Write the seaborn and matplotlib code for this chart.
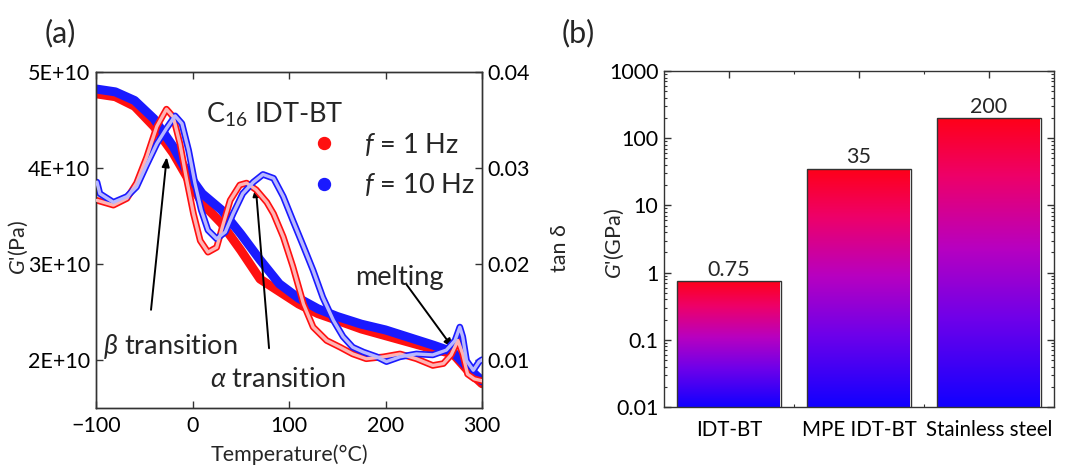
import numpy as np
import matplotlib
matplotlib.use("Agg")
import matplotlib.pyplot as plt
import matplotlib.ticker as mticker
from matplotlib.colors import LinearSegmentedColormap
from matplotlib.lines import Line2D
from matplotlib.transforms import blended_transform_factory
import seaborn as sns

# ---- DMA data: storage modulus G' (Pa) -------------------------------------
temp_g = [-100, -80, -60, -40, -20, -5, 10, 30, 50, 70, 90, 110, 130, 150,
          175, 200, 225, 250, 270, 285, 300]
g_1hz = [4.77e10, 4.74e10, 4.64e10, 4.43e10, 4.15e10, 3.89e10, 3.63e10,
         3.42e10, 3.14e10, 2.84e10, 2.71e10, 2.58e10, 2.48e10, 2.41e10,
         2.32e10, 2.25e10, 2.18e10, 2.11e10, 2.06e10, 1.89e10, 1.75e10]
g_10hz = [4.82e10, 4.79e10, 4.70e10, 4.51e10, 4.22e10, 3.94e10, 3.73e10,
          3.56e10, 3.31e10, 3.04e10, 2.79e10, 2.64e10, 2.53e10, 2.45e10,
          2.37e10, 2.31e10, 2.23e10, 2.15e10, 2.08e10, 1.92e10, 1.78e10]

# ---- DMA data: loss tangent tan delta --------------------------------------
temp_tan_1hz = [-99, -82, -68, -58, -47.5, -37, -27, -20, -13, -6, 1, 8, 16,
                25, 32, 39, 49, 56, 66, 77, 84, 94, 104, 115, 125, 139, 153,
                166, 180, 198, 215, 232, 249, 260, 268, 275, 280, 285, 292, 300]
tan_1hz = [0.0266, 0.0261, 0.0268, 0.0284, 0.0311, 0.0343, 0.0361, 0.0353,
           0.0325, 0.0287, 0.0252, 0.0224, 0.0212, 0.0217, 0.0242, 0.0266,
           0.0282, 0.0284, 0.0277, 0.0264, 0.0252, 0.0228, 0.0197, 0.0158,
           0.0134, 0.0120, 0.0113, 0.0106, 0.0101, 0.0103, 0.0106, 0.0101,
           0.0094, 0.0096, 0.0105, 0.0120, 0.0106, 0.0085, 0.0080, 0.0078]
temp_tan_10hz = [-99, -96, -82, -68, -58, -47.5, -37, -27, -18, -11, -4, 2.5,
                 9, 16, 25, 34, 42, 52, 63, 73, 84, 94, 104, 115, 125, 135,
                 146, 156, 166, 177, 191, 201, 215, 232, 249, 263, 272, 277,
                 280, 284, 291, 297, 300]
tan_10hz = [0.0285, 0.0273, 0.0264, 0.0270, 0.0280, 0.0303, 0.0325, 0.0341,
            0.0354, 0.0346, 0.0318, 0.0284, 0.0256, 0.0235, 0.0226, 0.0233,
            0.0252, 0.0273, 0.0285, 0.0293, 0.0289, 0.0270, 0.0245, 0.0218,
            0.0193, 0.0165, 0.0141, 0.0124, 0.0113, 0.0108, 0.0103, 0.0098,
            0.0103, 0.0106, 0.0105, 0.0110, 0.0120, 0.0134, 0.0124, 0.0099,
            0.0089, 0.0098, 0.0100]

# ---- modulus comparison (GPa) ----------------------------------------------
materials = ["IDT-BT", "MPE IDT-BT", "Stainless steel"]
modulus_gpa = [0.75, 35, 200]

RED = "#ff1010"
BLUE = "#1a1aff"

sns.set_style("ticks")
plt.rcParams.update({
    "font.family": ["Lato", "DejaVu Sans"],
    "mathtext.fontset": "custom",
    "mathtext.rm": "Lato",
    "mathtext.it": "Lato:italic",
    "mathtext.fallback": "cm",
    "axes.edgecolor": "#333333",
    "axes.linewidth": 1.0,
    "xtick.color": "#333333",
    "ytick.color": "#333333",
    "xtick.labelcolor": "black",
    "ytick.labelcolor": "black",
})

FS = 15.5
fig = plt.figure(figsize=(10.74, 4.66), dpi=100)
ax1 = fig.add_axes([0.0894, 0.1251, 0.3594, 0.7210])
ax1b = ax1.twinx()
ax2 = fig.add_axes([0.6182, 0.1266, 0.3631, 0.7210])

# ---------------- panel (a) ----------------
for temps, vals, col in [(temp_g, g_1hz, RED), (temp_g, g_10hz, BLUE)]:
    sns.lineplot(x=temps, y=vals, ax=ax1, color=col, lw=6.5, sort=False,
                 estimator=None, solid_capstyle="round",
                 solid_joinstyle="round", zorder=2)

# tan delta drawn as a hollow chain of open circles (coloured tube, pale core)
for temps, vals, col, core in [(temp_tan_1hz, tan_1hz, RED, "#ffb4b4"),
                               (temp_tan_10hz, tan_10hz, BLUE, "#b8b8ff")]:
    sns.lineplot(x=temps, y=vals, ax=ax1b, color=col, lw=4.8, sort=False,
                 estimator=None, solid_joinstyle="round",
                 solid_capstyle="round", zorder=2)
    sns.lineplot(x=temps, y=vals, ax=ax1b, color=core, lw=2.4, sort=False,
                 estimator=None, solid_joinstyle="round",
                 solid_capstyle="round", zorder=3)

ax1.set_xlim(-100, 300)
ax1.set_ylim(1.5e10, 5e10)
ax1b.set_ylim(0.005, 0.04)
ax1.set_xticks([-100, 0, 100, 200, 300])
ax1.set_yticks([2e10, 3e10, 4e10, 5e10])
ax1.yaxis.set_major_formatter(
    mticker.FuncFormatter(lambda v, p: f"{v / 1e10:.0f}E+10"))
ax1b.set_yticks([0.01, 0.02, 0.03, 0.04])
ax1b.yaxis.set_major_formatter(mticker.FuncFormatter(lambda v, p: f"{v:.2f}"))
ax1.tick_params(axis="both", direction="in", length=5, width=1,
                labelsize=FS, pad=4, top=True, right=False)
ax1.tick_params(axis="x", pad=6)
ax1b.tick_params(axis="y", direction="in", length=5, width=1,
                 labelsize=FS, pad=4)
ax1.set_xlabel("Temperature(°C)", fontsize=FS)
ax1.xaxis.set_label_coords(0.5, -0.108)
ax1.set_ylabel("")
ax1b.set_ylabel("")
fig.text(0.0168, 0.470, "$G$'(Pa)", fontsize=FS, rotation=90,
         ha="center", va="center")
fig.text(0.5214, 0.468, "tan δ", fontsize=FS, rotation=90,
         ha="center", va="center")

BIG = 19.5
ax1b.text(0.286, 0.871, "C$_{16}$ IDT-BT", transform=ax1b.transAxes,
          fontsize=BIG, ha="left", va="center")
handles = [Line2D([], [], ls="none", marker="o", ms=8.6, color=RED),
           Line2D([], [], ls="none", marker="o", ms=8.6, color=BLUE)]
ax1b.legend(handles, ["$f$ = 1 Hz", "$f$ = 10 Hz"], loc="upper left",
            bbox_to_anchor=(0.52, 0.825), frameon=False, fontsize=BIG,
            handlelength=2.0, handletextpad=0.5, labelspacing=0.5,
            borderpad=0, borderaxespad=0)

arrow = dict(arrowstyle="-|>,head_length=0.55,head_width=0.22", lw=1.4,
             color="black", shrinkA=0, shrinkB=0)
ax1.annotate("", xy=(-26.7, 4.11e10), xytext=(-43, 2.52e10), arrowprops=arrow)
ax1.annotate("", xy=(65.5, 3.80e10), xytext=(79.3, 2.12e10), arrowprops=arrow)
ax1.annotate("", xy=(270, 2.12e10), xytext=(222, 2.78e10), arrowprops=arrow)
ax1.text(-93, 2.14e10, r"$\beta$ transition", fontsize=BIG, ha="left",
         va="center")
ax1.text(18, 1.79e10, r"$\alpha$ transition", fontsize=BIG, ha="left",
         va="center")
ax1.text(168, 2.86e10, "melting", fontsize=BIG, ha="left", va="center")

# ---------------- panel (b) ----------------
sns.barplot(x=materials, y=modulus_gpa, ax=ax2, color="white",
            edgecolor="#333333", linewidth=1.0, width=0.8, zorder=3)
for p in ax2.patches:
    p.set_facecolor("none")
ax2.set_yscale("log")
ax2.set_xlim(-0.5, 2.5)
ax2.set_ylim(0.01, 1000)
ax2.set_autoscale_on(False)

grad_cmap = LinearSegmentedColormap.from_list(
    "blue_red", [(0.0, "#1200ff"), (0.3, "#6e00ea"), (0.55, "#b800c0"),
                 (0.8, "#ee0068"), (1.0, "#ff0018")])
gradient = np.linspace(0, 1, 256).reshape(-1, 1)
blend = blended_transform_factory(ax2.transData, ax2.transAxes)
to_axes = ax2.transAxes.inverted()
for p in ax2.patches:
    x0, w, h = p.get_x(), p.get_width(), p.get_height()
    top = to_axes.transform(ax2.transData.transform((x0, h)))[1]
    ax2.imshow(gradient, cmap=grad_cmap, origin="lower", aspect="auto",
               extent=(x0, x0 + w, 0, top), transform=blend, zorder=2,
               interpolation="bilinear")
ax2.set_xlim(-0.5, 2.5)
ax2.set_ylim(0.01, 1000)

ax2.bar_label(ax2.containers[0], labels=[f"{v:g}" for v in modulus_gpa],
              fontsize=FS, padding=1)

ax2.set_yticks([0.01, 0.1, 1, 10, 100, 1000])
ax2.yaxis.set_major_formatter(mticker.FuncFormatter(lambda v, p: f"{v:g}"))
ax2.yaxis.set_minor_locator(mticker.LogLocator(base=10, subs=np.arange(2, 10)))
ax2.yaxis.set_minor_formatter(mticker.NullFormatter())
ax2.xaxis.set_minor_locator(mticker.FixedLocator([0.5, 1.5]))
ax2.tick_params(axis="both", which="major", direction="in", length=5,
                width=1, labelsize=FS, pad=4, top=True, right=True)
ax2.tick_params(axis="both", which="minor", direction="in", length=2.5,
                width=0.8, top=True, right=True)
ax2.tick_params(axis="x", which="major", pad=9, labelsize=14.8)
ax2.set_xlabel("")
ax2.set_ylabel("")
fig.text(0.5717, 0.478, "$G$'(GPa)", fontsize=FS, rotation=90,
         ha="center", va="center")

fig.text(0.056, 0.93, "(a)", fontsize=22, ha="center", va="center")
fig.text(0.538, 0.93, "(b)", fontsize=22, ha="center", va="center")

fig.savefig("out.png", dpi=100, facecolor="white")
